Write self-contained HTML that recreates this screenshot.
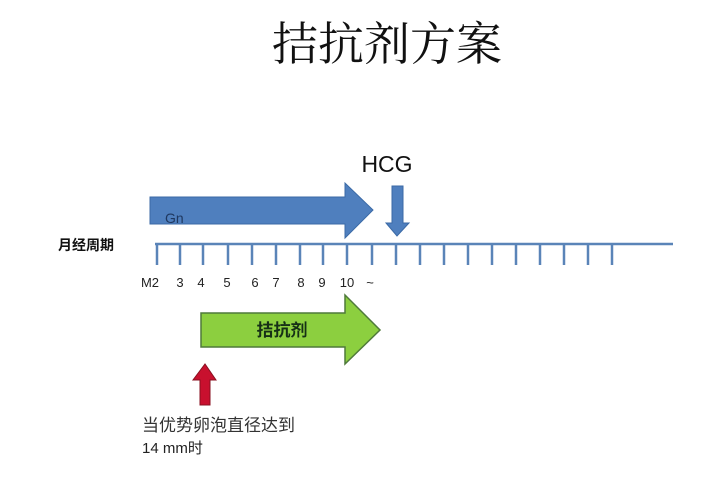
<!DOCTYPE html>
<html><head><meta charset="utf-8"><style>
body{margin:0;background:#fff;}
svg{display:block}
</style></head><body>
<svg width="720" height="481" viewBox="0 0 720 481" xmlns="http://www.w3.org/2000/svg">
<rect width="720" height="481" fill="#fff"/>
<text x="387" y="60" text-anchor="middle" font-family="'Noto Serif CJK SC','Noto Sans CJK SC',serif" font-size="46" fill="#111">拮抗剂方案</text>
<text x="387" y="172" text-anchor="middle" font-family="'Liberation Sans',sans-serif" font-size="23" fill="#111">HCG</text>
<!-- Gn arrow -->
<polygon points="150,197 345,197 345,183 373,210 345,238 345,224 150,224" fill="#4f7fbe" stroke="#3b6aa6" stroke-width="1"/>
<text x="165" y="223" font-family="'Liberation Sans',sans-serif" font-size="14" fill="#1f3860">Gn</text>
<!-- HCG down arrow -->
<polygon points="392,186 403,186 403,223 409,223 397,236 386,223 392,223" fill="#4f7fbe" stroke="#3b6aa6" stroke-width="1"/>
<!-- timeline -->
<line x1="155" y1="244" x2="673" y2="244" stroke="#5a84b8" stroke-width="2.5"/>
<g stroke="#5a84b8" stroke-width="2.5">
<line x1="157" y1="244" x2="157" y2="265"/><line x1="180" y1="244" x2="180" y2="265"/>
<line x1="203" y1="244" x2="203" y2="265"/><line x1="228" y1="244" x2="228" y2="265"/>
<line x1="252" y1="244" x2="252" y2="265"/><line x1="276" y1="244" x2="276" y2="265"/>
<line x1="300" y1="244" x2="300" y2="265"/><line x1="323" y1="244" x2="323" y2="265"/>
<line x1="347" y1="244" x2="347" y2="265"/><line x1="372" y1="244" x2="372" y2="265"/>
<line x1="396" y1="244" x2="396" y2="265"/><line x1="420" y1="244" x2="420" y2="265"/>
<line x1="444" y1="244" x2="444" y2="265"/><line x1="468" y1="244" x2="468" y2="265"/>
<line x1="492" y1="244" x2="492" y2="265"/><line x1="516" y1="244" x2="516" y2="265"/>
<line x1="540" y1="244" x2="540" y2="265"/><line x1="564" y1="244" x2="564" y2="265"/>
<line x1="588" y1="244" x2="588" y2="265"/><line x1="612" y1="244" x2="612" y2="265"/>
</g>
<text x="58" y="250" font-family="'Liberation Sans','Noto Sans CJK SC',sans-serif" font-size="14" font-weight="bold" fill="#111">月经周期</text>
<g font-family="'Liberation Sans',sans-serif" font-size="13" fill="#222" text-anchor="middle">
<text x="150" y="287">M2</text><text x="180" y="287">3</text><text x="201" y="287">4</text>
<text x="227" y="287">5</text><text x="255" y="287">6</text><text x="276" y="287">7</text>
<text x="301" y="287">8</text><text x="322" y="287">9</text><text x="347" y="287">10</text>
<text x="370" y="287">~</text>
</g>
<!-- green arrow -->
<polygon points="201,313 345,313 345,295 380,330 345,364 345,347 201,347" fill="#8ccf3f" stroke="#4f7a3a" stroke-width="1.5"/>
<text x="282" y="336" text-anchor="middle" font-family="'Liberation Sans','Noto Sans CJK SC',sans-serif" font-size="17" font-weight="bold" fill="#163016">拮抗剂</text>
<!-- red arrow -->
<polygon points="200,405 210,405 210,380 216,380 205,364 193,380 200,380" fill="#c8102e" stroke="#8a1020" stroke-width="1"/>
<text x="142" y="431" font-family="'Liberation Sans','Noto Sans CJK SC',sans-serif" font-size="17" fill="#333">当优势卵泡直径达到</text>
<text x="142" y="453" font-family="'Liberation Sans','Noto Sans CJK SC',sans-serif" font-size="15" fill="#222">14 mm时</text>
</svg>
</body></html>
